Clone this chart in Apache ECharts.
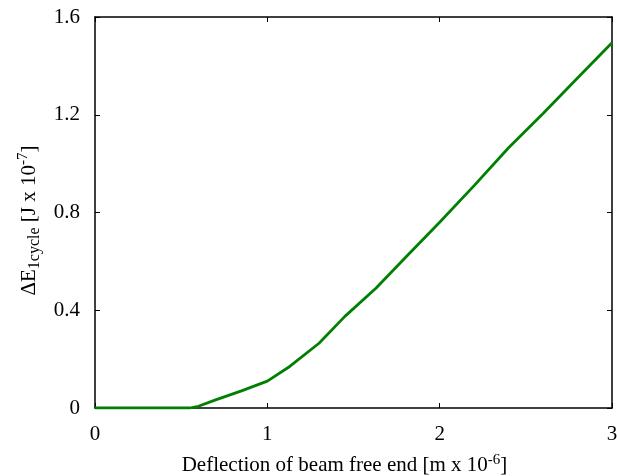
<!DOCTYPE html>
<html>
<head>
<meta charset="utf-8">
<script src="https://cdn.jsdelivr.net/npm/echarts@6/dist/echarts.min.js"></script>
<style>html,body{margin:0;padding:0;background:#fff;}#c{width:617px;height:476px;}</style>
</head>
<body>
<div id="c"></div>
<script>
var xValues = [0, 0.25, 0.5, 0.55, 0.6, 0.7, 0.85, 1.0, 1.13, 1.3, 1.45, 1.63, 1.8, 2.0, 2.2, 2.4, 2.6, 2.8, 3.0];
var yValues = [0, 0, 0, 0, 0.007, 0.033, 0.07, 0.11, 0.17, 0.265, 0.375, 0.49, 0.615, 0.76, 0.91, 1.065, 1.205, 1.35, 1.495];
var xTicks = [0, 1, 2, 3];
var yTicks = [0, 0.4, 0.8, 1.2, 1.6];

var FONT = '"Liberation Serif", "Times New Roman", serif';
var data = xValues.map(function (x, i) { return [x, yValues[i]]; });
var chart = echarts.init(document.getElementById('c'), null, { renderer: 'canvas' });

function axisCommon() {
  return {
    axisLine: { show: true, onZero: false, lineStyle: { color: '#000', width: 1.5 } },
    axisTick: { show: true, inside: true, length: 5, lineStyle: { color: '#000', width: 1 } },
    splitLine: { show: false }
  };
}

chart.setOption({
  animation: false,
  backgroundColor: '#fff',
  grid: { left: 95, right: 5, top: 17, bottom: 68, containLabel: false, outerBoundsMode: 'none' },
  xAxis: [
    Object.assign({
      type: 'value', min: xTicks[0], max: xTicks[xTicks.length - 1], interval: 1, position: 'bottom',
      axisLabel: { color: '#000', fontFamily: FONT, fontSize: 21, margin: 16 },
      name: '{n|Deflection of beam free end [m x 10}{sup|-6}{n|]}',
      nameLocation: 'middle', nameGap: 45,
      nameTextStyle: {
        padding: [0, 18, 0, 0],
        rich: {
          n: { fontFamily: FONT, fontSize: 21, color: '#000', lineHeight: 25 },
          sup: { fontFamily: FONT, fontSize: 15, color: '#000', verticalAlign: 'top', lineHeight: 15 }
        }
      }
    }, axisCommon()),
    Object.assign({
      type: 'value', min: 0, max: 3, interval: 1, position: 'top',
      axisLabel: { show: false }
    }, axisCommon())
  ],
  yAxis: [
    Object.assign({
      type: 'value', min: yTicks[0], max: yTicks[yTicks.length - 1], interval: 0.4, position: 'left',
      axisLabel: { color: '#000', fontFamily: FONT, fontSize: 21, margin: 15 },
      name: '{n|ΔE}{sub|1cycle}{n| [J x 10}{sup|-7}{n|]}',
      nameLocation: 'middle', nameRotate: 90, nameGap: 51,
      nameTextStyle: {
        padding: [0, 16, 0, 0],
        rich: {
          n: { fontFamily: FONT, fontSize: 21, color: '#000', lineHeight: 27 },
          sub: { fontFamily: FONT, fontSize: 16, color: '#000', verticalAlign: 'bottom', lineHeight: 16 },
          sup: { fontFamily: FONT, fontSize: 15, color: '#000', verticalAlign: 'top', lineHeight: 15 }
        }
      }
    }, axisCommon()),
    Object.assign({
      type: 'value', min: 0, max: 1.6, interval: 0.4, position: 'right',
      axisLabel: { show: false }
    }, axisCommon())
  ],
  series: [{
    type: 'line',
    data: data,
    showSymbol: false,
    smooth: false,
    lineStyle: { color: '#008000', width: 2.8 },
    itemStyle: { color: '#008000' }
  }]
});
</script>
</body>
</html>
